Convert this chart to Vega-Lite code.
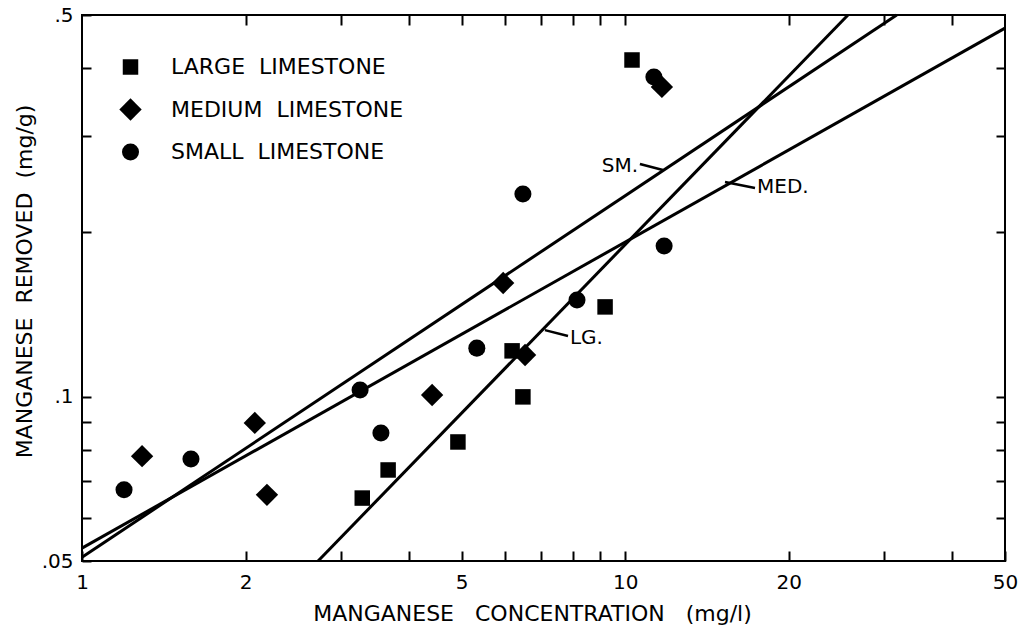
{
  "$schema": "https://vega.github.io/schema/vega-lite/v6.json",
  "width": 923,
  "height": 546,
  "autosize": {"type": "none"},
  "padding": {"left": 82, "top": 15, "right": 16, "bottom": 71},
  "background": "white",
  "config": {
    "view": {"stroke": "black", "strokeWidth": 2},
    "font": "DejaVu Sans",
    "axis": {"grid": false, "domain": false, "tickColor": "black", "tickWidth": 2, "labelColor": "black", "titleColor": "black", "titleFontWeight": "normal", "labelFont": "DejaVu Sans", "titleFont": "DejaVu Sans"}
  },
  "datasets": {
    "points": [
      {"x": 3.28, "y": 0.0652, "series": "LARGE LIMESTONE"},
      {"x": 3.66, "y": 0.0734, "series": "LARGE LIMESTONE"},
      {"x": 4.92, "y": 0.0826, "series": "LARGE LIMESTONE"},
      {"x": 6.19, "y": 0.1213, "series": "LARGE LIMESTONE"},
      {"x": 6.48, "y": 0.0999, "series": "LARGE LIMESTONE"},
      {"x": 9.18, "y": 0.146, "series": "LARGE LIMESTONE"},
      {"x": 10.29, "y": 0.4136, "series": "LARGE LIMESTONE"},
      {"x": 1.29, "y": 0.0778, "series": "MEDIUM LIMESTONE"},
      {"x": 2.08, "y": 0.0895, "series": "MEDIUM LIMESTONE"},
      {"x": 2.19, "y": 0.0661, "series": "MEDIUM LIMESTONE"},
      {"x": 4.41, "y": 0.1007, "series": "MEDIUM LIMESTONE"},
      {"x": 5.96, "y": 0.1615, "series": "MEDIUM LIMESTONE"},
      {"x": 6.54, "y": 0.1192, "series": "MEDIUM LIMESTONE"},
      {"x": 11.68, "y": 0.3692, "series": "MEDIUM LIMESTONE"},
      {"x": 1.195, "y": 0.0675, "series": "SMALL LIMESTONE"},
      {"x": 1.587, "y": 0.0769, "series": "SMALL LIMESTONE"},
      {"x": 3.25, "y": 0.1028, "series": "SMALL LIMESTONE"},
      {"x": 3.55, "y": 0.0858, "series": "SMALL LIMESTONE"},
      {"x": 5.33, "y": 0.1227, "series": "SMALL LIMESTONE"},
      {"x": 6.48, "y": 0.235, "series": "SMALL LIMESTONE"},
      {"x": 8.15, "y": 0.1503, "series": "SMALL LIMESTONE"},
      {"x": 11.29, "y": 0.3848, "series": "SMALL LIMESTONE"},
      {"x": 11.79, "y": 0.1888, "series": "SMALL LIMESTONE"}
    ],
    "lines": [
      {"x": 1, "y": 0.0508, "line": "SM"},
      {"x": 31.6, "y": 0.5, "line": "SM"},
      {"x": 1, "y": 0.0528, "line": "MED"},
      {"x": 50, "y": 0.473, "line": "MED"},
      {"x": 2.72, "y": 0.05, "line": "LG"},
      {"x": 25.7, "y": 0.5, "line": "LG"}
    ],
    "labels": [
      {"x": 9.05, "y": 0.2645, "text": "SM."},
      {"x": 17.48, "y": 0.2421, "text": "MED."},
      {"x": 7.91, "y": 0.128, "text": "LG."}
    ],
    "arrows": [
      {"x": 10.64, "y": 0.2667, "x2": 11.73, "y2": 0.26},
      {"x": 15.26, "y": 0.2472, "x2": 17.33, "y2": 0.2411},
      {"x": 7.115, "y": 0.1324, "x2": 7.845, "y2": 0.1291}
    ]
  },
  "layer": [
    {
      "encoding": {
        "x": {
          "field": "x", "type": "quantitative",
          "scale": {"type": "log", "domain": [1, 50], "nice": false},
          "title": "MANGANESE\u00a0\u00a0\u00a0CONCENTRATION\u00a0\u00a0\u00a0(mg/l)",
          "axis": {
            "orient": "bottom",
            "values": [1, 2, 3, 4, 5, 6, 7, 8, 9, 10, 20, 30, 40, 50],
            "format": "d",
            "labelExpr": "(datum.value == 1 || datum.value == 2 || datum.value == 5 || datum.value == 10 || datum.value == 20 || datum.value == 50) ? datum.label : ''",
            "tickSize": -10,
            "labelFontSize": 20,
            "labelPadding": 21,
            "labelFlush": false,
            "labelOverlap": false,
            "titleFontSize": 22,
            "titleX": 450,
            "titleY": 52,
            "titleBaseline": "middle",
            "titleAlign": "center"
          }
        },
        "y": {
          "field": "y", "type": "quantitative",
          "scale": {"type": "log", "domain": [0.05, 0.5], "nice": false},
          "title": "MANGANESE\u00a0\u00a0REMOVED\u00a0\u00a0(mg/g)",
          "axis": {
            "orient": "left",
            "values": [0.05, 0.06, 0.07, 0.08, 0.09, 0.1, 0.2, 0.3, 0.4, 0.5],
            "labelExpr": "datum.value == 0.05 ? '.05' : (datum.value == 0.1 ? '.1' : (datum.value == 0.5 ? '.5' : ''))",
            "tickSize": -9,
            "labelFontSize": 20,
            "labelPadding": 18,
            "labelFlush": false,
            "labelOverlap": false,
            "titleFontSize": 22,
            "titleX": -58,
            "titleY": 266,
            "titleBaseline": "middle",
            "titleAlign": "center",
            "titleAngle": -90
          }
        }
      },
      "layer": [
        {
          "data": {"name": "lines"},
          "mark": {"type": "line", "color": "black", "strokeWidth": 3},
          "encoding": {"detail": {"field": "line", "type": "nominal"}}
        },
        {
          "data": {"name": "arrows"},
          "mark": {"type": "rule", "color": "black", "strokeWidth": 2.5},
          "encoding": {"x2": {"field": "x2"}, "y2": {"field": "y2"}}
        },
        {
          "data": {"name": "labels"},
          "mark": {"type": "text", "align": "left", "baseline": "middle", "fontSize": 20, "color": "black", "font": "DejaVu Sans"},
          "encoding": {"text": {"field": "text", "type": "nominal"}}
        },
        {
          "data": {"name": "points"},
          "mark": {"type": "point", "filled": true, "color": "black", "opacity": 1, "strokeWidth": 0},
          "encoding": {
            "shape": {
              "field": "series", "type": "nominal",
              "scale": {"domain": ["LARGE LIMESTONE", "MEDIUM LIMESTONE", "SMALL LIMESTONE"], "range": ["square", "diamond", "circle"]},
              "legend": {"orient": "none", "legendX": 37, "legendY": 41, "title": null, "labelFontSize": 22, "labelFont": "DejaVu Sans", "labelColor": "black", "labelOffset": 29, "labelLimit": 0, "labelExpr": "replace(datum.label, ' ', '\u00a0\u00a0')", "rowPadding": 20, "padding": 0, "symbolFillColor": "black", "symbolStrokeColor": "black", "symbolOpacity": 1, "symbolStrokeWidth": 0}
            },
            "size": {
              "field": "series", "type": "nominal",
              "scale": {"type": "ordinal", "domain": ["LARGE LIMESTONE", "MEDIUM LIMESTONE", "SMALL LIMESTONE"], "range": [240, 500, 290]},
              "legend": {"orient": "none", "legendX": 37, "legendY": 41, "title": null, "labelFontSize": 22, "labelFont": "DejaVu Sans", "labelColor": "black", "labelOffset": 29, "labelLimit": 0, "labelExpr": "replace(datum.label, ' ', '\u00a0\u00a0')", "rowPadding": 20, "padding": 0, "symbolFillColor": "black", "symbolStrokeColor": "black", "symbolOpacity": 1, "symbolStrokeWidth": 0}
            }
          }
        }
      ]
    },
    {
      "data": {"name": "points"},
      "mark": {"type": "point", "opacity": 0},
      "encoding": {
        "x": {
          "field": "x", "type": "quantitative",
          "scale": {"type": "log", "domain": [1, 50], "nice": false},
          "axis": {"orient": "top", "values": [2, 3, 4, 5, 6, 7, 8, 9, 10, 20, 30, 40], "labels": false, "tickSize": -10, "title": null}
        },
        "y": {
          "field": "y", "type": "quantitative",
          "scale": {"type": "log", "domain": [0.05, 0.5], "nice": false},
          "axis": {"orient": "right", "values": [0.06, 0.07, 0.08, 0.09, 0.1, 0.2, 0.3, 0.4], "labels": false, "tickSize": -9, "title": null}
        }
      }
    }
  ],
  "resolve": {"scale": {"x": "independent", "y": "independent"}}
}
